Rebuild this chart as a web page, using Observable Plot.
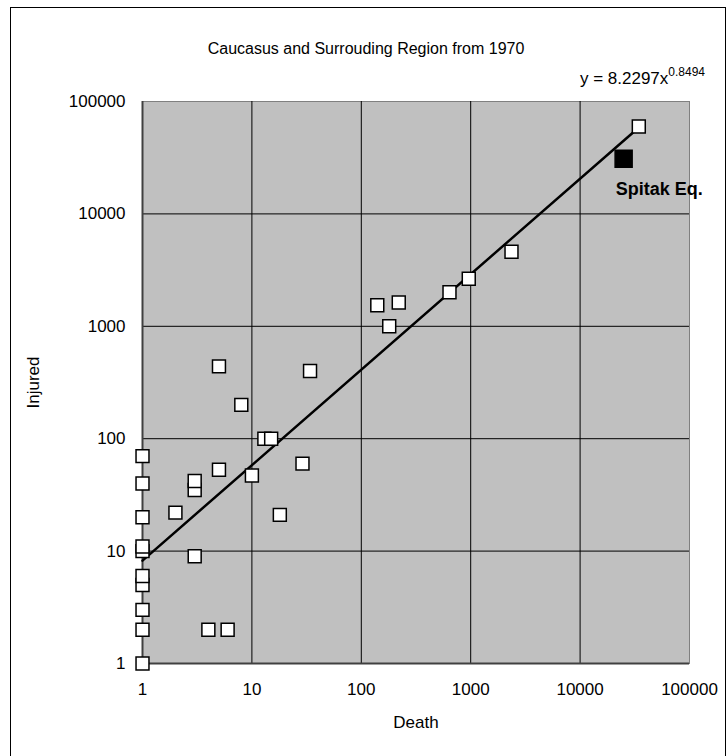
<!DOCTYPE html>
<html>
<head>
<meta charset="utf-8">
<script src="https://cdn.jsdelivr.net/npm/d3@7"></script>
<script src="https://cdn.jsdelivr.net/npm/@observablehq/plot@0.6"></script>
<style>
  html, body { margin: 0; padding: 0; background: #fff; }
  #wrap { position: relative; width: 726px; height: 756px; overflow: hidden; }
  #border { position: absolute; left: 10px; top: 7px; width: 716px; height: 780px; border: 1.5px solid #000; box-sizing: border-box; pointer-events: none; }
  #chart { position: absolute; left: 0; top: 0; }
</style>
</head>
<body>
<div id="wrap"><div id="chart"></div><div id="border"></div></div>
<script>
// ---- data ----
const title = "Caucasus and Surrouding Region from 1970";
const xLabel = "Death";
const yLabel = "Injured";
const tickValues = [1, 10, 100, 1000, 10000, 100000];
const death   = [1, 1, 1, 1, 1, 1, 1, 1, 1, 1, 2, 3, 3, 3, 4, 5, 5, 6, 8, 10, 13, 15, 18, 29, 34, 140, 180, 220, 640, 960, 2360, 34400];
const injured = [1, 2, 3, 5, 6, 10, 11, 20, 40, 70, 22, 9, 35, 42, 2, 53, 440, 2, 200, 47, 100, 100, 21, 60, 400, 1540, 1000, 1630, 2010, 2650, 4600, 60000];
const spitakDeath = [25000];
const spitakInjured = [31000];
const spitakLabel = "Spitak Eq.";
const trendA = 8.2297;
const trendB = 0.8494;
const trendText = "y = 8.2297x";
const trendExp = "0.8494";

const points = death.map((d, i) => ({death: d, injured: injured[i]}));
const spitak = spitakDeath.map((d, i) => ({death: d, injured: spitakInjured[i], label: spitakLabel}));
const xMin = d3.min(death), xMax = d3.max(death);
const trend = [xMin, xMax].map(x => ({death: x, injured: trendA * Math.pow(x, trendB)}));

const font = "'Liberation Sans', Arial, sans-serif";

const chart = Plot.plot({
  width: 726,
  height: 756,
  marginLeft: 142,
  marginRight: 37,
  marginTop: 101,
  marginBottom: 93,
  style: {fontFamily: font, fontSize: "17px", background: "transparent", color: "#000", overflow: "visible"},
  x: {type: "log", domain: [1, 100000]},
  y: {type: "log", domain: [1, 100000]},
  marks: [
    Plot.frame({fill: "#c0c0c0", stroke: "#808080"}),
    Plot.ruleX(tickValues.slice(1, -1), {stroke: "#000", strokeWidth: 1}),
    Plot.ruleY(tickValues.slice(1, -1), {stroke: "#000", strokeWidth: 1}),
    Plot.ruleY([1], {stroke: "#404040", strokeWidth: 2}),
    Plot.ruleX([1], {stroke: "#404040", strokeWidth: 2}),
    Plot.axisX({ticks: tickValues, tickFormat: d => String(d), tickSize: 0, tickPadding: 19, label: null, fontSize: 17}),
    Plot.axisY({ticks: tickValues, tickFormat: d => String(d), tickSize: 0, tickPadding: 17, label: null, fontSize: 17}),
    Plot.line(trend, {x: "death", y: "injured", stroke: "#000", strokeWidth: 2.5}),
    Plot.dot(points, {x: "death", y: "injured", symbol: "square", r: 7.3, fill: "#fff", stroke: "#000", strokeWidth: 1.5}),
    Plot.dot(spitak, {x: "death", y: "injured", symbol: "square", r: 9.6, fill: "#000", stroke: "#000"}),
    Plot.text(spitak, {x: "death", y: "injured", text: "label", textAnchor: "start", dx: -8, dy: 31, fontWeight: "bold", fontSize: 18}),
    Plot.text([xLabel], {frameAnchor: "bottom", text: d => d, textAnchor: "middle", dy: 64, fontSize: 17}),
    Plot.text([yLabel], {frameAnchor: "left", text: d => d, textAnchor: "middle", dx: -109, rotate: -90, fontSize: 17}),
    Plot.text([title], {frameAnchor: "top", text: d => d, textAnchor: "middle", dx: -50, dy: -59, fontSize: 16})
  ]
});
document.getElementById("chart").appendChild(chart);

// regression equation label with superscript exponent
const svg = d3.select(chart);
const eq = svg.append("text")
  .attr("x", 705).attr("y", 84)
  .attr("text-anchor", "end")
  .attr("font-family", font)
  .attr("font-size", 17)
  .attr("fill", "#000");
eq.append("tspan").text(trendText);
eq.append("tspan").attr("font-size", 12).attr("dy", -8).text(trendExp);
</script>
</body>
</html>
